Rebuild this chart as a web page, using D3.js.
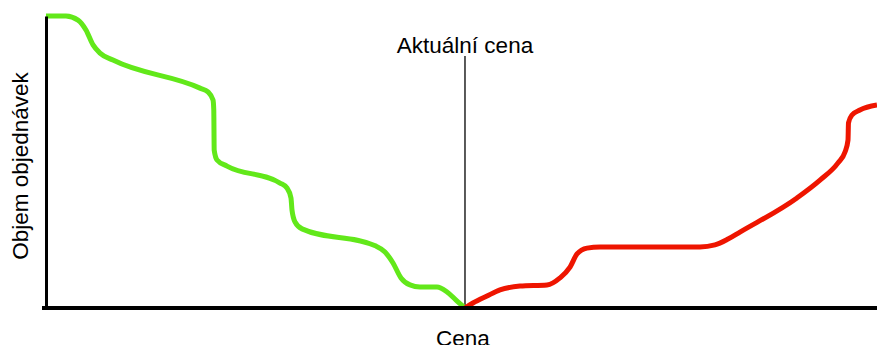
<!DOCTYPE html>
<html>
<head>
<meta charset="utf-8">
<script src="https://cdn.jsdelivr.net/npm/d3@7"></script>
<style>
  html, body { margin: 0; padding: 0; background: #fff; }
  svg { display: block; font-family: "Liberation Sans", Arial, Helvetica, sans-serif; }
</style>
</head>
<body>
<div id="chart"></div>
<script>
// Order book depth: price (0-100) vs cumulative volume (0-100)
const currentPrice = 50.42;

const bidPrice = [0, 2.4, 3.85, 4.81, 5.66, 6.5, 8.06, 18.53, 19.49, 20.1, 20.19, 20.24, 20.58, 21.78,
  28.16, 29.0, 29.48, 29.6, 29.96, 30.81, 39.71, 40.79, 41.76, 42.72, 43.8, 45.0, 47.05, 48.26, 49.34, 50.42];
const bidVolume = [100, 100, 98.6, 95.2, 90.1, 87.3, 84.9, 75.3, 74.0, 71.2, 67.8, 54.1, 50.7, 48.6,
  42.8, 41.1, 37.7, 33.6, 29.5, 27.1, 21.2, 19.2, 15.4, 10.3, 7.9, 7.2, 7.2, 5.5, 2.7, 0];

const askPrice = [50.42, 51.38, 53.07, 54.63, 57.04, 60.29, 61.85, 63.06, 63.9, 65.1, 66.67, 78.7, 80.5,
  82.07, 83.51, 90.37, 93.14, 95.31, 96.15, 96.51, 96.57, 96.99, 97.95, 100];
const askVolume = [0, 1.7, 4.1, 6.2, 7.5, 7.9, 10.3, 14.0, 18.5, 20.5, 20.9, 20.9, 21.6,
  23.6, 26.0, 37.7, 43.8, 49.7, 53.4, 57.5, 63.4, 66.1, 67.8, 69.5];

const labels = { x: 'Cena', y: 'Objem objednávek', current: 'Aktuální cena' };

const W = 877, H = 345;
const margin = { top: 16, right: 0, bottom: 37, left: 46 };

const svg = d3.select('#chart').append('svg')
  .attr('width', W).attr('height', H);

const x = d3.scaleLinear().domain([0, 100]).range([margin.left, W - margin.right]);
const y = d3.scaleLinear().domain([0, 100]).range([H - margin.bottom, margin.top]);

const line = d3.line()
  .x(d => x(d[0])).y(d => y(d[1]))
  .curve(d3.curveMonotoneX);

const bids = bidPrice.map((p, i) => [p, bidVolume[i]]);
const asks = askPrice.map((p, i) => [p, askVolume[i]]);

// current price marker
svg.append('line')
  .attr('x1', x(currentPrice)).attr('x2', x(currentPrice))
  .attr('y1', 56).attr('y2', y(0))
  .attr('stroke', '#000').attr('stroke-width', 1.3);

svg.append('text')
  .attr('x', x(currentPrice)).attr('y', 53)
  .attr('text-anchor', 'middle').attr('font-size', '22.5px')
  .text(labels.current);

// depth curves
svg.append('path').datum(bids)
  .attr('d', line).attr('fill', 'none')
  .attr('stroke', '#62e81a').attr('stroke-width', 5)
  .attr('stroke-linejoin', 'round');

svg.append('path').datum(asks)
  .attr('d', line).attr('fill', 'none')
  .attr('stroke', '#ee1500').attr('stroke-width', 5)
  .attr('stroke-linejoin', 'round');

// axes
svg.append('g').attr('transform', `translate(${x(0)},0)`)
  .call(d3.axisLeft(y).tickValues([]).tickSizeOuter(0))
  .call(g => g.select('.domain').attr('stroke', '#000').attr('stroke-width', 3));

svg.append('line')
  .attr('x1', x(0) - 4).attr('x2', W)
  .attr('y1', y(0)).attr('y2', y(0))
  .attr('stroke', '#000').attr('stroke-width', 4);

svg.append('text')
  .attr('x', x(currentPrice) - 2).attr('y', 346)
  .attr('text-anchor', 'middle').attr('font-size', '22.5px')
  .text(labels.x);

svg.append('text')
  .attr('transform', `translate(28,166) rotate(-90)`)
  .attr('text-anchor', 'middle').attr('font-size', '22.5px')
  .text(labels.y);
</script>
</body>
</html>
